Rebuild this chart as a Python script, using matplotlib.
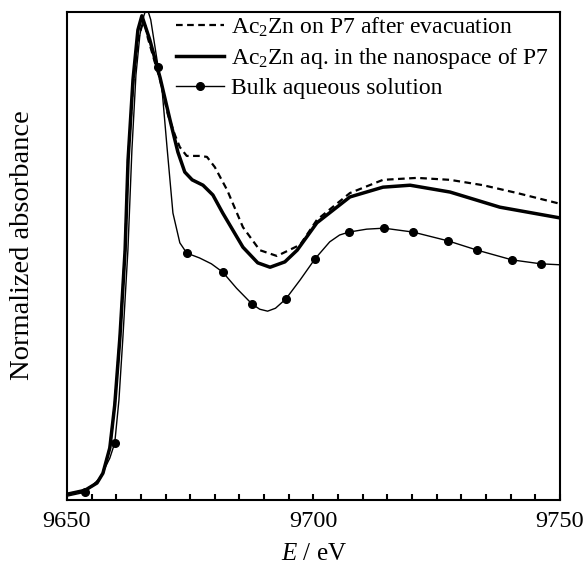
import numpy as np
import matplotlib
matplotlib.use("Agg")
import matplotlib.pyplot as plt
from matplotlib.ticker import MultipleLocator

plt.rcParams['font.family'] = ['Liberation Serif', 'DejaVu Serif']
plt.rcParams['mathtext.fontset'] = 'custom'
plt.rcParams['mathtext.rm'] = 'Liberation Serif'
plt.rcParams['mathtext.it'] = 'Liberation Serif:italic'

# Ac2Zn on P7 after evacuation (dashed)
e_evac = [9650, 9653.65, 9656.1, 9657.3, 9658.7, 9659.7, 9660.75, 9661.8, 9662.4, 9663.4,
          9664.4, 9665.2, 9665.8, 9666.4, 9667.8, 9668.9, 9670.5, 9671.9, 9672.9, 9674.3,
          9677.0, 9678.4, 9680.0, 9682.5, 9685.7, 9689.1, 9692.6, 9697.3, 9700.7, 9707.4,
          9714.1, 9721.0, 9727.7, 9734.4, 9741.3, 9750]
a_evac = [0.012, 0.020, 0.035, 0.055, 0.107, 0.195, 0.334, 0.512, 0.697, 0.850,
          0.943, 0.971, 0.977, 0.947, 0.898, 0.861, 0.789, 0.748, 0.723, 0.705,
          0.705, 0.703, 0.682, 0.635, 0.559, 0.512, 0.500, 0.523, 0.574, 0.629,
          0.656, 0.660, 0.656, 0.645, 0.629, 0.607]

# Ac2Zn aq. in the nanospace of P7 (thick)
e_nano = [9650, 9653.65, 9656.1, 9657.3, 9658.7, 9659.7, 9660.75, 9661.8, 9662.4, 9663.4,
          9664.4, 9665.2, 9666.8, 9668.9, 9670.9, 9672.5, 9673.9, 9675.4, 9677.6, 9679.6,
          9681.6, 9685.7, 9688.7, 9691.2, 9694.2, 9696.7, 9700.7, 9707.4, 9714.1, 9719.6,
          9727.7, 9737.8, 9750]
a_nano = [0.012, 0.020, 0.035, 0.055, 0.107, 0.195, 0.334, 0.512, 0.697, 0.861,
          0.963, 0.992, 0.943, 0.865, 0.779, 0.713, 0.672, 0.656, 0.645, 0.625,
          0.588, 0.518, 0.486, 0.477, 0.488, 0.512, 0.568, 0.621, 0.641, 0.645,
          0.631, 0.600, 0.578]

# Bulk aqueous solution (thin, with markers)
e_bulk = [9650, 9653.65, 9656.7, 9658.7, 9659.7, 9660.55, 9661.36, 9662.37, 9663.18, 9664.0,
          9664.8, 9665.6, 9666.2, 9667.0, 9668.5, 9669.3, 9670.3, 9671.5, 9672.9, 9674.3,
          9676.9, 9679.3, 9681.6, 9684.4, 9687.5, 9689.1, 9690.7, 9692.3, 9694.4, 9697.3,
          9700.3, 9703.3, 9705.3, 9707.2, 9710.8, 9714.3, 9720.2, 9727.3, 9733.2, 9740.3,
          9746.1, 9750]
a_bulk = [0.008, 0.016, 0.045, 0.086, 0.117, 0.205, 0.334, 0.512, 0.717, 0.871,
          0.953, 0.992, 1.010, 0.984, 0.887, 0.840, 0.723, 0.588, 0.527, 0.506,
          0.496, 0.484, 0.467, 0.434, 0.402, 0.391, 0.387, 0.393, 0.412, 0.451,
          0.494, 0.529, 0.543, 0.549, 0.555, 0.557, 0.549, 0.531, 0.512, 0.492,
          0.484, 0.482]
bulk_marks = [1, 4, 14, 19, 22, 24, 28, 30, 33, 35, 36, 37, 38, 39, 40]

fig = plt.figure(figsize=(5.87, 5.67), dpi=100)
ax = fig.add_axes([0.114, 0.118, 0.840, 0.861])

ax.plot(e_evac, a_evac, color='black', lw=1.6, ls=(0, (3, 2)),
        label='Ac$_2$Zn on P7 after evacuation')
ax.plot(e_nano, a_nano, color='black', lw=2.5,
        label='Ac$_2$Zn aq. in the nanospace of P7')
ax.plot(e_bulk, a_bulk, color='black', lw=1.0, marker='o', ms=5.5,
        markevery=bulk_marks, label='Bulk aqueous solution')

ax.set_xlim(9650, 9750)
ax.set_ylim(0, 1.0)
ax.xaxis.set_major_locator(MultipleLocator(50))
ax.xaxis.set_minor_locator(MultipleLocator(5))
ax.set_yticks([])
ax.tick_params(axis='x', which='both', direction='in', length=4, width=1.5,
               labelsize=17.5, pad=8)
for s in ax.spines.values():
    s.set_linewidth(1.5)

ax.set_xlabel('$E$ / eV', fontsize=18, labelpad=8)
ax.set_ylabel('Normalized absorbance', fontsize=20.5)
ax.yaxis.set_label_coords(-0.064, 0.522)

ax.legend(loc='upper left', bbox_to_anchor=(0.215, 1.0), frameon=False,
          fontsize=17, handlelength=2.0, handletextpad=0.3,
          labelspacing=0.3, borderpad=0.15, borderaxespad=0)

fig.savefig('out.png', dpi=100)
